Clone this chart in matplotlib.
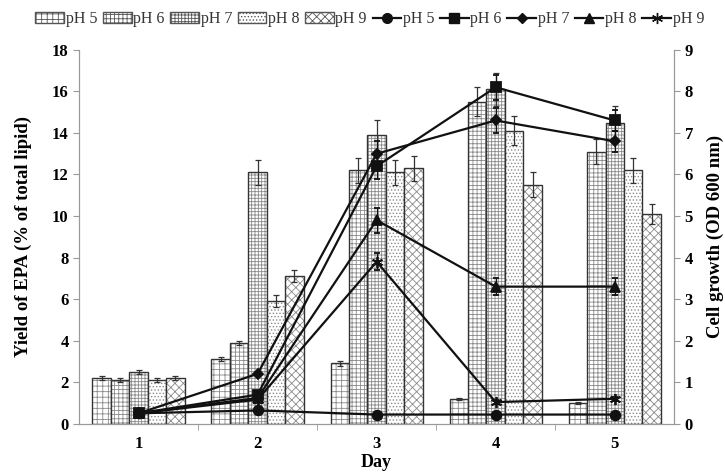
import numpy as np
import matplotlib.pyplot as plt
from matplotlib.lines import Line2D
from matplotlib.patches import Patch

plt.rcParams['font.family'] = ['Liberation Serif', 'DejaVu Serif']
plt.rcParams['hatch.linewidth'] = 0.6

days = [1, 2, 3, 4, 5]
labels = ['pH 5', 'pH 6', 'pH 7', 'pH 8', 'pH 9']

# yield of EPA (% of total lipid), bars
epa_ph5 = [2.2, 3.1, 2.9, 1.2, 1.0]
epa_ph6 = [2.1, 3.9, 12.2, 15.5, 13.1]
epa_ph7 = [2.5, 12.1, 13.9, 16.1, 14.5]
epa_ph8 = [2.1, 5.9, 12.1, 14.1, 12.2]
epa_ph9 = [2.2, 7.1, 12.3, 11.5, 10.1]
epa_err5 = [0.1, 0.1, 0.1, 0.05, 0.05]
epa_err6 = [0.1, 0.1, 0.6, 0.7, 0.6]
epa_err7 = [0.1, 0.6, 0.7, 0.8, 0.8]
epa_err8 = [0.1, 0.3, 0.6, 0.7, 0.6]
epa_err9 = [0.1, 0.3, 0.6, 0.6, 0.5]

# cell growth (OD 600 nm), lines
od_ph5 = [0.25, 0.32, 0.22, 0.22, 0.22]
od_ph6 = [0.25, 0.7, 6.2, 8.1, 7.3]
od_ph7 = [0.25, 1.2, 6.5, 7.3, 6.8]
od_ph8 = [0.25, 0.62, 4.9, 3.3, 3.3]
od_ph9 = [0.25, 0.58, 3.9, 0.52, 0.6]
od_err5 = [0.0, 0.0, 0.0, 0.0, 0.0]
od_err6 = [0.0, 0.05, 0.3, 0.3, 0.25]
od_err7 = [0.0, 0.05, 0.3, 0.3, 0.25]
od_err8 = [0.0, 0.05, 0.3, 0.2, 0.2]
od_err9 = [0.0, 0.05, 0.2, 0.05, 0.05]

epa = [epa_ph5, epa_ph6, epa_ph7, epa_ph8, epa_ph9]
epa_err = [epa_err5, epa_err6, epa_err7, epa_err8, epa_err9]
od = [od_ph5, od_ph6, od_ph7, od_ph8, od_ph9]
od_err = [od_err5, od_err6, od_err7, od_err8, od_err9]

hatches = ['+++', '++++', '+++++', '.....', 'xxxx']
markers = ['o', 's', 'D', '^', (6, 2, 0)]
msizes = [7, 7, 5, 7, 8]

fig = plt.figure(figsize=(7.25, 4.75), dpi=100)
ax = fig.add_axes([0.109, 0.108, 0.821, 0.787])
ax2 = ax.twinx()

x = np.array(days)
w = 0.155
for i in range(5):
    pos = x + (i - 2) * w
    ax.bar(pos, epa[i], w, color='white', edgecolor='#8a8a8a',
           hatch=hatches[i], linewidth=0)
    ax.bar(pos, epa[i], w, color='none', edgecolor='#333333', linewidth=1.0)
    ax.errorbar(pos, epa[i], yerr=epa_err[i], fmt='none', ecolor='#333333',
                elinewidth=0.9, capsize=2.5, capthick=0.9)

for i in range(5):
    ax2.errorbar(x, od[i], yerr=od_err[i], color='#111111', lw=1.6,
                 marker=markers[i], ms=msizes[i], mew=1.3,
                 mfc='#111111', mec='#111111',
                 elinewidth=0.9, capsize=2.5, capthick=0.9)

ax.set_xlim(0.5, 5.5)
ax.set_ylim(0, 18)
ax2.set_ylim(0, 9)
ax.set_yticks(range(0, 19, 2))
ax2.set_yticks(range(0, 10))
ax.set_xticks(days)
ax.set_xticks([1.5, 2.5, 3.5, 4.5], minor=True)
ax.tick_params(axis='x', which='major', length=0, pad=9)
ax.tick_params(axis='x', which='minor', length=4, color='#999999')
ax.tick_params(axis='y', length=4, color='#999999')
ax2.tick_params(axis='y', length=4, color='#999999')

for a in (ax, ax2):
    a.spines['top'].set_visible(False)
    for s in ('left', 'right', 'bottom'):
        a.spines[s].set_color('#999999')
    for lab in a.get_xticklabels() + a.get_yticklabels():
        lab.set_fontweight('bold')
        lab.set_fontsize(12)

ax.set_xlabel('Day', fontsize=13, fontweight='bold', labelpad=1)
ax.set_ylabel('Yield of EPA (% of total lipid)', fontsize=13.5,
              fontweight='bold', labelpad=14)
ax2.set_ylabel('Cell growth (OD 600 nm)', fontsize=13.5,
               fontweight='bold', labelpad=10)

handles = [Patch(facecolor='white', edgecolor='#555555', hatch=h) for h in hatches]
handles += [Line2D([], [], color='#111111', lw=1.6, marker=m, ms=s, mfc='#111111')
            for m, s in zip(markers, msizes)]
fig.legend(handles, labels + labels, loc='upper center',
           bbox_to_anchor=(0.51, 1.0), ncol=10, frameon=False,
           fontsize=11.5, handlelength=1.8, handletextpad=0.1,
           columnspacing=0.35, borderaxespad=0.3, labelcolor='#333333')

fig.savefig('out.png', dpi=100)
